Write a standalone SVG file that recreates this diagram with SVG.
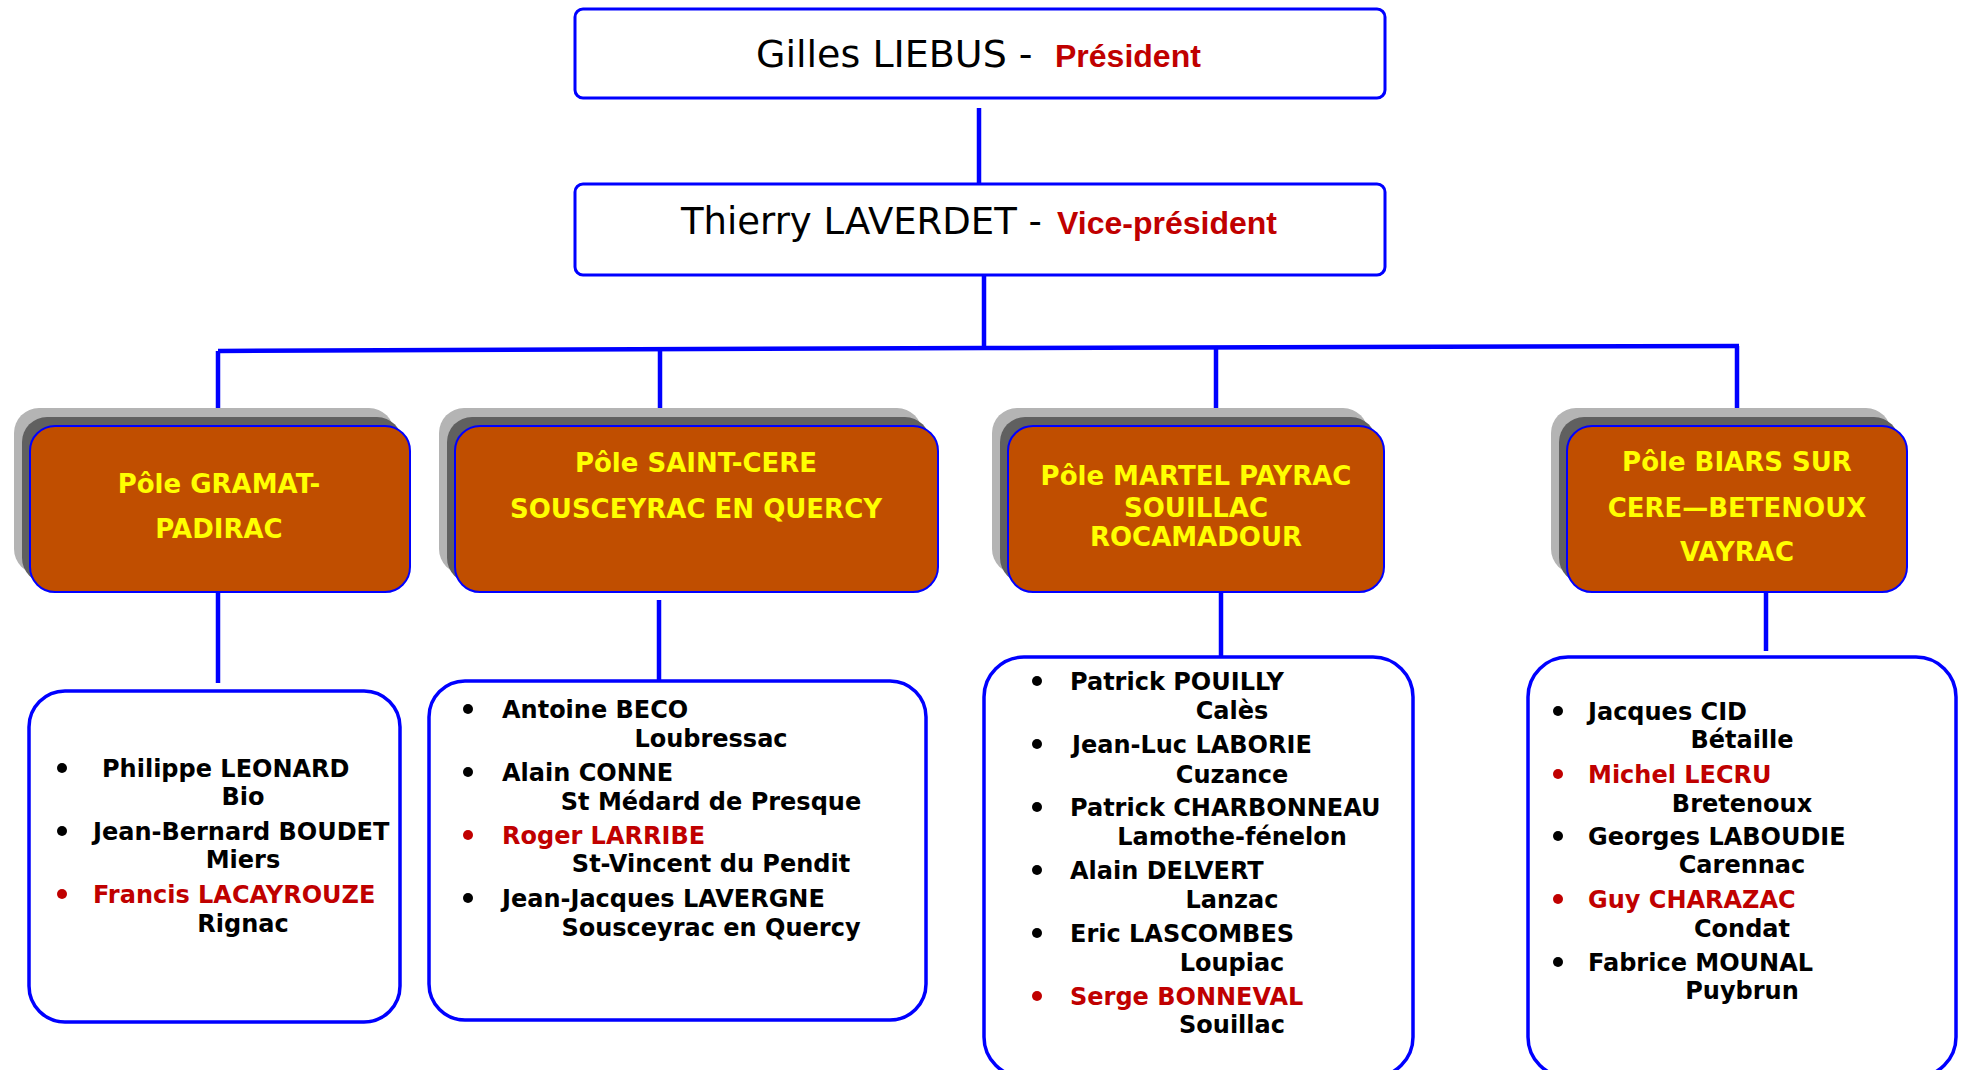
<svg xmlns="http://www.w3.org/2000/svg" width="1966" height="1070" viewBox="0 0 1966 1070">
<style>
.top{fill:#fff;stroke:#0000ff;stroke-width:3}
.conn{stroke:#0000ff;stroke-width:4.5;fill:none}
.sh1{fill:#b4b4b4}
.sh2{fill:#606060}
.pole{fill:#c04e00;stroke:#0000ff;stroke-width:2}
.pt{font-family:"DejaVu Sans",sans-serif;font-weight:bold;font-size:26px;fill:#ffff00;text-anchor:middle}
.list{fill:#fff;stroke:#0000ff;stroke-width:3.5}
.nm{font-family:"DejaVu Sans",sans-serif;font-weight:bold;font-size:24px;fill:#000}
.loc{font-family:"DejaVu Sans",sans-serif;font-weight:bold;font-size:24px;fill:#000;text-anchor:middle}
.bl{fill:#000}
.red{fill:#c00000}
.hd{font-family:"DejaVu Sans",sans-serif;fill:#000}
.rl{font-family:"Liberation Sans",Arial,sans-serif;font-weight:bold;font-size:32px;fill:#c00000}
</style>
<rect width="1966" height="1070" fill="#fff"/>
<g id="connectors">
<line class="conn" x1="979" y1="108" x2="979" y2="184"/>
<line class="conn" x1="984" y1="275" x2="984" y2="348"/>
<polyline class="conn" points="218,351 984,348 1739,346"/>
<line class="conn" x1="218" y1="351" x2="218" y2="409"/>
<line class="conn" x1="660" y1="350" x2="660" y2="409"/>
<line class="conn" x1="1216" y1="348" x2="1216" y2="409"/>
<line class="conn" x1="1737" y1="346" x2="1737" y2="409"/>
<line class="conn" x1="218" y1="592" x2="218" y2="683"/>
<line class="conn" x1="659" y1="600" x2="659" y2="681"/>
<line class="conn" x1="1221" y1="592" x2="1221" y2="657"/>
<line class="conn" x1="1766" y1="592" x2="1766" y2="651"/>
</g>
<g id="president">
<rect class="top" x="575" y="9" width="810" height="89" rx="8"/>
<text class="hd" x="756" y="67" font-size="38">Gilles LIEBUS -</text>
<text class="rl" x="1055" y="67">Président</text>
</g>
<g id="vice-president">
<rect class="top" x="575" y="184" width="810" height="91" rx="8"/>
<text class="hd" x="681" y="234" font-size="37">Thierry LAVERDET -</text>
<text class="rl" x="1057" y="234">Vice-président</text>
</g>
<g id="pole-gramat">
<rect class="sh1" x="14" y="408" width="380" height="166" rx="25"/>
<rect class="sh2" x="22" y="417" width="380" height="166" rx="25"/>
<rect class="pole" x="30" y="426" width="380" height="166" rx="25"/>
<text class="pt" x="219" y="493">Pôle GRAMAT-</text>
<text class="pt" x="219" y="538">PADIRAC</text>
</g>
<g id="pole-saint-cere">
<rect class="sh1" x="439" y="408" width="483" height="166" rx="25"/>
<rect class="sh2" x="447" y="417" width="483" height="166" rx="25"/>
<rect class="pole" x="455" y="426" width="483" height="166" rx="25"/>
<text class="pt" x="696" y="472">Pôle SAINT-CERE</text>
<text class="pt" x="696" y="518">SOUSCEYRAC EN QUERCY</text>
</g>
<g id="pole-martel">
<rect class="sh1" x="992" y="408" width="376" height="166" rx="25"/>
<rect class="sh2" x="1000" y="417" width="376" height="166" rx="25"/>
<rect class="pole" x="1008" y="426" width="376" height="166" rx="25"/>
<text class="pt" x="1196" y="485">Pôle MARTEL PAYRAC</text>
<text class="pt" x="1196" y="517">SOUILLAC</text>
<text class="pt" x="1196" y="546">ROCAMADOUR</text>
</g>
<g id="pole-biars">
<rect class="sh1" x="1551" y="408" width="340" height="166" rx="25"/>
<rect class="sh2" x="1559" y="417" width="340" height="166" rx="25"/>
<rect class="pole" x="1567" y="426" width="340" height="166" rx="25"/>
<text class="pt" x="1737" y="471">Pôle BIARS SUR</text>
<text class="pt" x="1737" y="517">CERE—BETENOUX</text>
<text class="pt" x="1737" y="561">VAYRAC</text>
</g>
<g id="members-gramat">
<rect class="list" x="29" y="691" width="371" height="331" rx="36"/>
<circle class="bl" cx="62" cy="768" r="5"/><text class="nm" x="102" y="777">Philippe LEONARD</text>
<text class="loc" x="243" y="805">Bio</text>
<circle class="bl" cx="62" cy="831" r="5"/><text class="nm" x="93" y="840">Jean-Bernard BOUDET</text>
<text class="loc" x="243" y="868">Miers</text>
<circle class="bl red" cx="62" cy="894" r="5"/><text class="nm red" x="93" y="903">Francis LACAYROUZE</text>
<text class="loc" x="243" y="932">Rignac</text>
</g>
<g id="members-saint-cere">
<rect class="list" x="429" y="681" width="497" height="339" rx="36"/>
<circle class="bl" cx="468" cy="709" r="5"/><text class="nm" x="502" y="718">Antoine BECO</text>
<text class="loc" x="711" y="747">Loubressac</text>
<circle class="bl" cx="468" cy="772" r="5"/><text class="nm" x="502" y="781">Alain CONNE</text>
<text class="loc" x="711" y="810">St Médard de Presque</text>
<circle class="bl red" cx="468" cy="835" r="5"/><text class="nm red" x="502" y="844">Roger LARRIBE</text>
<text class="loc" x="711" y="872">St-Vincent du Pendit</text>
<circle class="bl" cx="468" cy="898" r="5"/><text class="nm" x="502" y="907">Jean-Jacques LAVERGNE</text>
<text class="loc" x="711" y="936">Sousceyrac en Quercy</text>
</g>
<g id="members-martel">
<rect class="list" x="984" y="657" width="429" height="420" rx="40"/>
<circle class="bl" cx="1037" cy="681" r="5"/><text class="nm" x="1070" y="690">Patrick POUILLY</text>
<text class="loc" x="1232" y="719">Calès</text>
<circle class="bl" cx="1037" cy="744" r="5"/><text class="nm" x="1072" y="753">Jean-Luc LABORIE</text>
<text class="loc" x="1232" y="783">Cuzance</text>
<circle class="bl" cx="1037" cy="807" r="5"/><text class="nm" x="1070" y="816">Patrick CHARBONNEAU</text>
<text class="loc" x="1232" y="845">Lamothe-fénelon</text>
<circle class="bl" cx="1037" cy="870" r="5"/><text class="nm" x="1070" y="879">Alain DELVERT</text>
<text class="loc" x="1232" y="908">Lanzac</text>
<circle class="bl" cx="1037" cy="933" r="5"/><text class="nm" x="1070" y="942">Eric LASCOMBES</text>
<text class="loc" x="1232" y="971">Loupiac</text>
<circle class="bl red" cx="1037" cy="996" r="5"/><text class="nm red" x="1070" y="1005">Serge BONNEVAL</text>
<text class="loc" x="1232" y="1033">Souillac</text>
</g>
<g id="members-biars">
<rect class="list" x="1528" y="657" width="428" height="420" rx="40"/>
<circle class="bl" cx="1558" cy="711" r="5"/><text class="nm" x="1588" y="720">Jacques CID</text>
<text class="loc" x="1742" y="748">Bétaille</text>
<circle class="bl red" cx="1558" cy="774" r="5"/><text class="nm red" x="1588" y="783">Michel LECRU</text>
<text class="loc" x="1742" y="812">Bretenoux</text>
<circle class="bl" cx="1558" cy="836" r="5"/><text class="nm" x="1588" y="845">Georges LABOUDIE</text>
<text class="loc" x="1742" y="873">Carennac</text>
<circle class="bl red" cx="1558" cy="899" r="5"/><text class="nm red" x="1588" y="908">Guy CHARAZAC</text>
<text class="loc" x="1742" y="937">Condat</text>
<circle class="bl" cx="1558" cy="962" r="5"/><text class="nm" x="1588" y="971">Fabrice MOUNAL</text>
<text class="loc" x="1742" y="999">Puybrun</text>
</g>
</svg>
